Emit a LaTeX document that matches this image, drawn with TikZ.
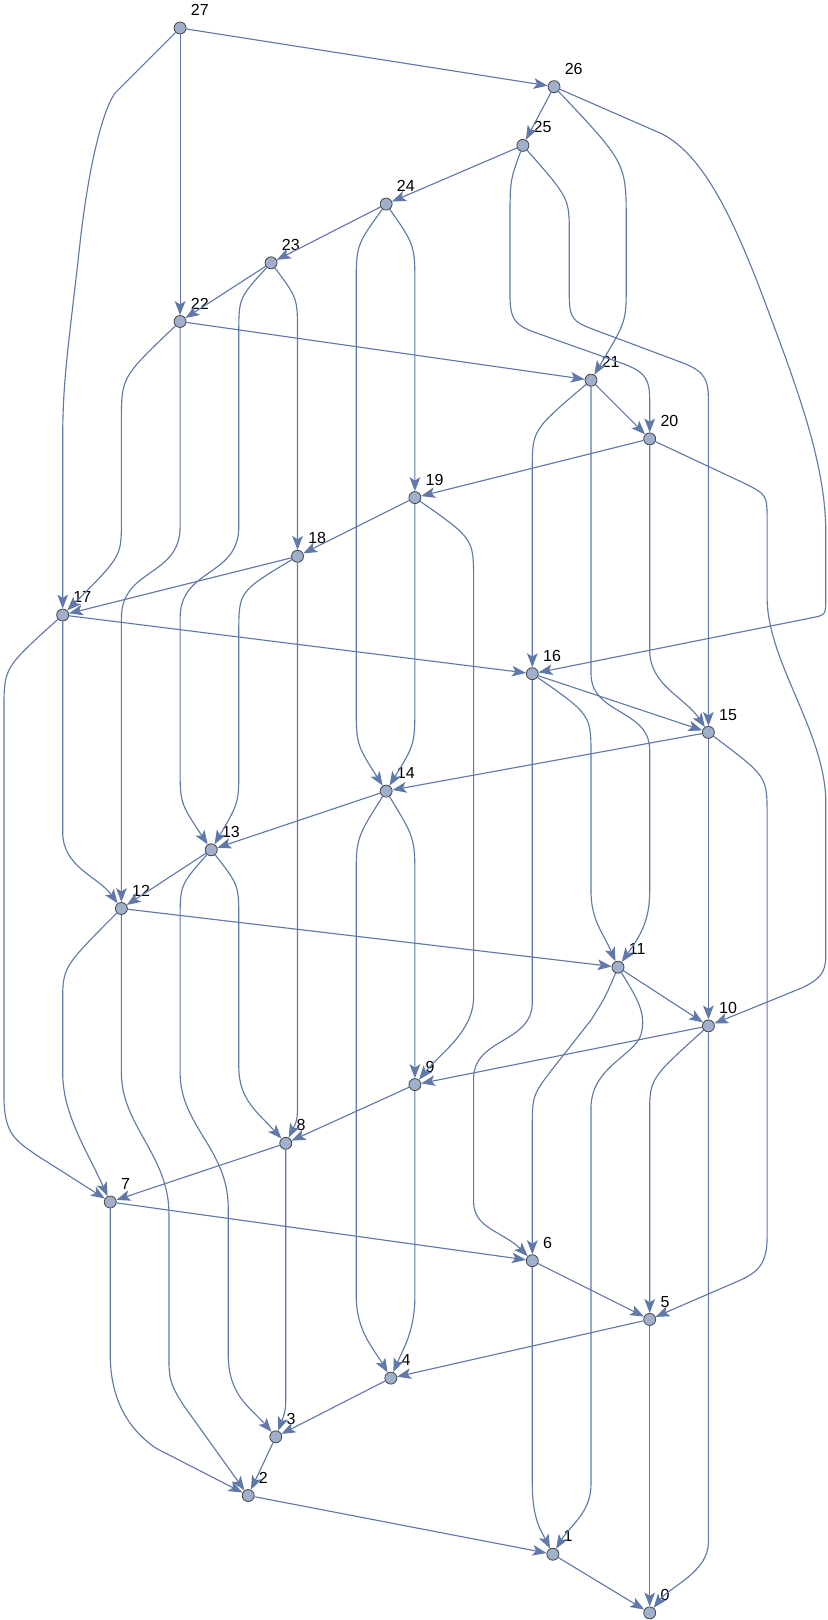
\documentclass[tikz,border=0pt]{standalone}
\usepackage{fontspec}
\setmainfont{Liberation Sans}
\usetikzlibrary{arrows.meta}
\definecolor{vfill}{HTML}{A0AFCB}
\definecolor{vline}{HTML}{444444}
\definecolor{ecol}{HTML}{6079A9}
\begin{document}
\begin{tikzpicture}[x=44.025pt,y=-44.025pt,
  num/.style={font=\fontsize{12}{14}\selectfont,inner sep=0pt,anchor=base west,xshift=3.1pt,yshift=9.3pt},
  vtx/.style={circle,draw=vline,fill=vfill,line width=0.6pt,inner sep=0pt,minimum size=9pt,label={[num]0:#1}},
  arr/.style={draw=ecol,line width=0.85pt,-{Stealth[length=10.5pt,width=8pt,inset=2.5pt]}}]
\useasboundingbox (-0.0681,-0.477) rectangle (14.037,27.121);
\node[vtx=27] (n27) at (3,0) {};
\node[vtx=26] (n26) at (9.37,1) {};
\node[vtx=25] (n25) at (8.84,2) {};
\node[vtx=24] (n24) at (6.51,3) {};
\node[vtx=23] (n23) at (4.55,4) {};
\node[vtx=22] (n22) at (3,5) {};
\node[vtx=21] (n21) at (10,6) {};
\node[vtx=20] (n20) at (11,7) {};
\node[vtx=19] (n19) at (7,8) {};
\node[vtx=18] (n18) at (5,9) {};
\node[vtx=17] (n17) at (1,10) {};
\node[vtx=16] (n16) at (9,11) {};
\node[vtx=15] (n15) at (12,12) {};
\node[vtx=14] (n14) at (6.51,13) {};
\node[vtx=13] (n13) at (3.53,14) {};
\node[vtx=12] (n12) at (2,15) {};
\node[vtx=11] (n11) at (10.46,16) {};
\node[vtx=10] (n10) at (12,17) {};
\node[vtx=9] (n9) at (7,18) {};
\node[vtx=8] (n8) at (4.8,19) {};
\node[vtx=7] (n7) at (1.81,20) {};
\node[vtx=6] (n6) at (9,21) {};
\node[vtx=5] (n5) at (11,22) {};
\node[vtx=4] (n4) at (6.59,23) {};
\node[vtx=3] (n3) at (4.63,24) {};
\node[vtx=2] (n2) at (4.16,25) {};
\node[vtx=1] (n1) at (9.35,26) {};
\node[vtx=0] (n0) at (11,27) {};

\draw[arr] (n27) -- (n26);
\draw[arr] (n27) -- (n22);
\draw[arr] (n27) -- (1.9,1.1) .. controls (1.72,1.32) and (1.45,2.2) .. (1.28,3.8) .. controls (1.1,5.4) and (1,6) .. (1,7) -- (n17);

\draw[arr] (n26) -- (n25);
\draw[arr] (n26) .. controls (10.6,2.3) .. (10.6,3.3) -- (10.6,4.4) .. controls (10.6,5.0) .. (n21);
\draw[arr] (n26) -- (11.2,1.8) .. controls (11.9,2.15) and (12.4,3.2) .. (12.9,4.5) .. controls (13.5,6.1) and (14,7.4) .. (14,8.6) -- (14,9.7) .. controls (14,10) .. (13.75,10.05) -- (n16);

\draw[arr] (n25) -- (n24);
\draw[arr] (n25) .. controls (8.62,2.6) .. (8.62,3.3) -- (8.62,4.55) .. controls (8.62,4.95) and (8.7,5.05) .. (9,5.17) -- (10.55,5.72) .. controls (10.95,5.87) and (11,6) .. (11,6.35) -- (n20);
\draw[arr] (n25) .. controls (9.63,2.9) .. (9.63,3.5) -- (9.63,4.55) .. controls (9.63,4.95) and (9.7,5) .. (10,5.12) -- (11.55,5.7) .. controls (11.95,5.85) and (12,6) .. (12,6.35) -- (n15);

\draw[arr] (n24) -- (n23);
\draw[arr] (n24) .. controls (7,3.7) .. (7,4.4) -- (n19);
\draw[arr] (n24) .. controls (6,3.7) .. (6,4.4) -- (6,11.5) .. controls (6,12.2) .. (n14);

\draw[arr] (n23) -- (n22);
\draw[arr] (n23) .. controls (5,4.6) .. (5,5.2) -- (n18);
\draw[arr] (n23) .. controls (4,4.6) .. (4,5.2) -- (4,8.5) .. controls (4,9.35) and (3,9.2) .. (3,10.05) -- (3,12.6) .. controls (3,13.2) .. (n13);

\draw[arr] (n22) -- (n21);
\draw[arr] (n22) .. controls (2,5.95) .. (2,6.7) -- (2,8.4) .. controls (2,9) .. (n17);
\draw[arr] (n22) -- (3,8.5) .. controls (3,9.35) and (2,9.2) .. (2,10.05) -- (n12);

\draw[arr] (n21) -- (n20);
\draw[arr] (n21) .. controls (9,6.85) .. (9,7.5) -- (n16);
\draw[arr] (n21) -- (10,11) .. controls (10,11.7) and (11,11.6) .. (11,12.3) -- (11,14.7) .. controls (11,15.2) and (10.85,15.45) .. (n11);

\draw[arr] (n20) -- (n19);
\draw[arr] (n20) -- (11,10.6) .. controls (11,11.2) and (11.6,11.4) .. (n15);
\draw[arr] (n20) -- (12.6,7.75) .. controls (13,7.95) .. (13,8.4) -- (13,9.7) .. controls (13,10.8) and (14,12) .. (14,13.2) -- (14,15.8) .. controls (14,16.1) and (13.9,16.2) .. (13.6,16.35) -- (n10);

\draw[arr] (n19) -- (n18);
\draw[arr] (n19) -- (7,11.5) .. controls (7,12.2) .. (n14);
\draw[arr] (n19) .. controls (8,8.7) .. (8,9.4) -- (8,16.5) .. controls (8,17.1) and (7.45,17.45) .. (n9);

\draw[arr] (n18) -- (n17);
\draw[arr] (n18) .. controls (4,9.6) .. (4,10.3) -- (4,12.6) .. controls (4,13.2) .. (n13);
\draw[arr] (n18) -- (5,18.2) .. controls (5,18.6) .. (n8);

\draw[arr] (n17) -- (n16);
\draw[arr] (n17) -- (1,13.7) .. controls (1,14.3) and (1.6,14.45) .. (n12);
\draw[arr] (n17) .. controls (0,10.9) .. (0,11.6) -- (0,18.2) .. controls (0,18.85) and (0.2,18.95) .. (0.55,19.2) -- (n7);

\draw[arr] (n16) -- (n15);
\draw[arr] (n16) .. controls (10,11.7) .. (10,12.4) -- (10,14.7) .. controls (10,15.2) and (10.2,15.4) .. (n11);
\draw[arr] (n16) -- (9,16.6) .. controls (9,17.3) and (8,17.2) .. (8,17.9) -- (8,20) .. controls (8,20.45) and (8.5,20.5) .. (n6);

\draw[arr] (n15) -- (n14);
\draw[arr] (n15) -- (n10);
\draw[arr] (n15) .. controls (13,12.75) .. (13,13.4) -- (13,20.6) .. controls (13,21.05) and (12.85,21.2) .. (12.5,21.35) -- (n5);

\draw[arr] (n14) -- (n13);
\draw[arr] (n14) .. controls (7,13.8) .. (7,14.5) -- (n9);
\draw[arr] (n14) .. controls (6,13.8) .. (6,14.5) -- (6,21.6) .. controls (6,22.2) and (6.3,22.5) .. (n4);

\draw[arr] (n13) -- (n12);
\draw[arr] (n13) .. controls (4,14.6) .. (4,15.2) -- (4,17.7) .. controls (4,18.25) and (4.3,18.45) .. (n8);
\draw[arr] (n13) .. controls (3,14.6) .. (3,15.2) -- (3,17.8) .. controls (3,18.7) and (3.82,19.1) .. (3.82,20.1) -- (3.82,22.6) .. controls (3.82,23.3) and (4.2,23.5) .. (n3);

\draw[arr] (n12) -- (n11);
\draw[arr] (n12) .. controls (1,16) .. (1,16.6) -- (1,17.8) .. controls (1,18.5) and (1.4,19.1) .. (n7);
\draw[arr] (n12) -- (2,17.8) .. controls (2,18.7) and (2.81,19.2) .. (2.81,20.2) -- (2.81,22.7) .. controls (2.81,23.1) and (2.9,23.2) .. (3.05,23.45) -- (n2);

\draw[arr] (n11) -- (n10);
\draw[arr] (n11) .. controls (10.25,16.5) .. (10,16.9) -- (9.45,17.6) .. controls (9,18.17) .. (9,18.7) -- (n6);
\draw[arr] (n11) .. controls (10.8,16.55) and (10.95,16.8) .. (10.85,17.15) .. controls (10.75,17.5) and (10,17.7) .. (10,18.4) -- (10,24.8) .. controls (10,25.3) and (9.65,25.5) .. (n1);

\draw[arr] (n10) -- (n9);
\draw[arr] (n10) .. controls (11,17.9) .. (11,18.5) -- (n5);
\draw[arr] (n10) -- (12,25.8) .. controls (12,26.3) and (11.35,26.55) .. (n0);

\draw[arr] (n9) -- (n8);
\draw[arr] (n9) -- (7,21.6) .. controls (7,22.2) and (6.8,22.5) .. (n4);
\draw[arr] (n8) -- (n7);
\draw[arr] (n8) -- (4.8,23.2) .. controls (4.8,23.55) .. (n3);
\draw[arr] (n7) -- (n6);
\draw[arr] (n7) -- (1.81,22.6) .. controls (1.81,23.4) and (2.15,23.9) .. (2.6,24.2) -- (n2);
\draw[arr] (n6) -- (n5);
\draw[arr] (n6) -- (9,24.8) .. controls (9,25.4) and (9.15,25.6) .. (n1);
\draw[arr] (n5) -- (n4);
\draw[arr] (n5) -- (n0);
\draw[arr] (n4) -- (n3);
\draw[arr] (n3) -- (n2);
\draw[arr] (n2) -- (n1);
\draw[arr] (n1) -- (n0);
\end{tikzpicture}
\end{document}
